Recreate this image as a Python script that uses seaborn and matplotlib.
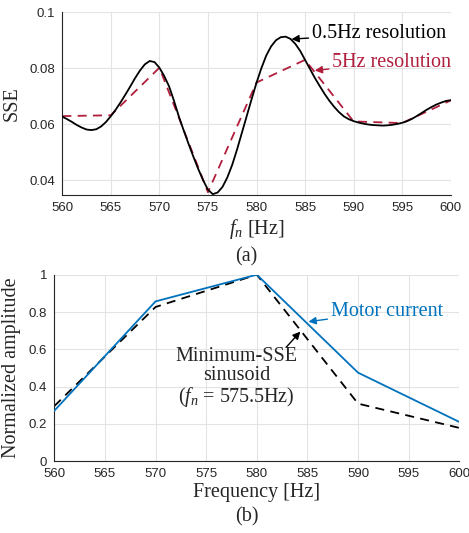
import numpy as np
import pandas as pd
import matplotlib
matplotlib.use("Agg")
import matplotlib.pyplot as plt
import seaborn as sns

# ---- data ----
freq_fine = [560 + 0.5 * i for i in range(81)]
sse_fine = [
    0.0627, 0.0618, 0.0608, 0.0597, 0.0588, 0.0581, 0.0579, 0.0582, 0.0592, 0.0608,
    0.0629, 0.0652, 0.0678, 0.0706, 0.0735, 0.0765, 0.0792, 0.0814, 0.0826, 0.0822,
    0.0802, 0.0772, 0.0735, 0.0684, 0.0628, 0.0578, 0.0530, 0.0484, 0.0440, 0.0400,
    0.0366, 0.0350, 0.0356, 0.0376, 0.0410, 0.0455, 0.0510, 0.0570, 0.0630, 0.0690,
    0.0748, 0.0800, 0.0845, 0.0878, 0.0900, 0.0911, 0.0913, 0.0905, 0.0887, 0.0862,
    0.0830, 0.0798, 0.0766, 0.0737, 0.0709, 0.0684, 0.0662, 0.0643, 0.0628, 0.0618,
    0.0611, 0.0606, 0.0602, 0.0599, 0.0597, 0.0596, 0.0595, 0.0596, 0.0598, 0.0601,
    0.0605, 0.0611, 0.0619, 0.0629, 0.0640, 0.0651, 0.0661, 0.0670, 0.0677, 0.0683,
    0.0686,
]
freq_coarse = [560, 565, 570, 575, 580, 585, 590, 595, 600]
sse_coarse = [0.0629, 0.0632, 0.0802, 0.0357, 0.0749, 0.0830, 0.0610, 0.0604, 0.0685]

freq_spec = [560, 570, 580, 590, 600]
motor_current = [0.271, 0.857, 1.0, 0.475, 0.211]
min_sse_sinusoid = [0.296, 0.827, 1.0, 0.309, 0.179]

x_ticks = [560, 565, 570, 575, 580, 585, 590, 595, 600]
y_ticks_a = [0.04, 0.06, 0.08, 0.1]
y_labels_a = ["0.04", "0.06", "0.08", "0.1"]
y_ticks_b = [0, 0.2, 0.4, 0.6, 0.8, 1.0]
y_labels_b = ["0", "0.2", "0.4", "0.6", "0.8", "1"]

# ---- style ----
sns.set_style("white")
plt.rcParams["font.family"] = ["Liberation Sans", "DejaVu Sans"]
plt.rcParams["mathtext.fontset"] = "custom"
plt.rcParams["mathtext.rm"] = "Liberation Serif"
plt.rcParams["mathtext.it"] = "Liberation Serif:italic"

SERIF = ["Liberation Serif", "DejaVu Serif"]
RED = "#B01E3C"
BLUE = "#0072BD"
GRID = "#E3E3E3"
TICKC = "#262626"
FS = 14.5

W, H = 469, 533
fig = plt.figure(figsize=(W / 100, H / 100), dpi=100)


def px_axes(l, r, t, b):
    return fig.add_axes([l / W, 1 - b / H, (r - l) / W, (b - t) / H])


def style(ax, yt, yl):
    ax.set_xlim(560, 600)
    ax.set_xticks(x_ticks)
    ax.set_xticklabels([str(v) for v in x_ticks])
    ax.set_yticks(yt)
    ax.set_yticklabels(yl)
    ax.grid(True, color=GRID, lw=0.8)
    ax.set_axisbelow(True)
    for s in ["top", "right"]:
        ax.spines[s].set_visible(False)
    for s in ["left", "bottom"]:
        ax.spines[s].set_color(TICKC)
        ax.spines[s].set_linewidth(0.8)
    ax.tick_params(direction="in", length=4, width=0.8, color=TICKC,
                   labelcolor=TICKC, labelsize=9.5, pad=5)


# ---- (a) ----
ax1 = px_axes(62.3, 450.7, 12.3, 195)
df_f = pd.DataFrame({"f": freq_fine, "sse": sse_fine})
df_c = pd.DataFrame({"f": freq_coarse, "sse": sse_coarse})
sns.lineplot(data=df_c, x="f", y="sse", ax=ax1, color=RED, lw=1.3,
             linestyle=(0, (5, 3.5)), estimator=None, zorder=2)
sns.lineplot(data=df_f, x="f", y="sse", ax=ax1, color="black", lw=1.3,
             estimator=None, zorder=3)
style(ax1, y_ticks_a, y_labels_a)
ax1.set_ylim(0.0347, 0.1)
ax1.set_xlabel("$f_n$ [Hz]", fontsize=FS, family=SERIF, labelpad=2)
ax1.set_ylabel("SSE", fontsize=FS, family=SERIF, labelpad=6)

ax1.annotate("0.5Hz resolution", xy=(583.6, 0.0904), xytext=(585.7, 0.0924),
             fontsize=FS, family=SERIF, color="black", va="center", ha="left",
             arrowprops=dict(arrowstyle="-|>", color="black", lw=1.0,
                             mutation_scale=11, shrinkA=0, shrinkB=0))
ax1.annotate("5Hz resolution", xy=(586.0, 0.0792), xytext=(587.8, 0.0821),
             fontsize=FS, family=SERIF, color=RED, va="center", ha="left",
             arrowprops=dict(arrowstyle="-|>", color=RED, lw=1.0,
                             mutation_scale=11, shrinkA=0, shrinkB=0))
fig.text(246 / W, 1 - 257 / H, "(a)", fontsize=FS, family=SERIF,
         ha="center", va="center")

# ---- (b) ----
ax2 = px_axes(54.3, 459.3, 274.7, 461.3)
df_b = pd.DataFrame({"f": freq_spec, "motor": motor_current,
                     "sin": min_sse_sinusoid})
sns.lineplot(data=df_b, x="f", y="sin", ax=ax2, color="black", lw=1.3,
             linestyle=(0, (5, 3.5)), estimator=None, zorder=2)
sns.lineplot(data=df_b, x="f", y="motor", ax=ax2, color=BLUE, lw=1.3,
             estimator=None, zorder=3)
style(ax2, y_ticks_b, y_labels_b)
ax2.set_ylim(0, 1)
ax2.set_xlabel("Frequency [Hz]", fontsize=FS, family=SERIF, labelpad=2)
ax2.set_ylabel("Normalized amplitude", fontsize=FS, family=SERIF, labelpad=6)

ax2.annotate("Motor current", xy=(585.1, 0.748), xytext=(587.3, 0.805),
             fontsize=FS, family=SERIF, color=BLUE, va="center", ha="left",
             arrowprops=dict(arrowstyle="-|>", color=BLUE, lw=1.0,
                             mutation_scale=11, shrinkA=0, shrinkB=0))
ax2.annotate("", xy=(584.3, 0.695), xytext=(582.9, 0.611),
             arrowprops=dict(arrowstyle="-|>", color="black", lw=1.0,
                             mutation_scale=11, shrinkA=0, shrinkB=0))
ax2.text(578.0, 0.445, "Minimum-SSE\nsinusoid\n($f_n$ = 575.5Hz)",
         fontsize=FS, family=SERIF, ha="center", va="center",
         linespacing=1.0)
fig.text(247 / W, 1 - 517 / H, "(b)", fontsize=FS, family=SERIF,
         ha="center", va="center")

fig.savefig("out.png", dpi=100)
